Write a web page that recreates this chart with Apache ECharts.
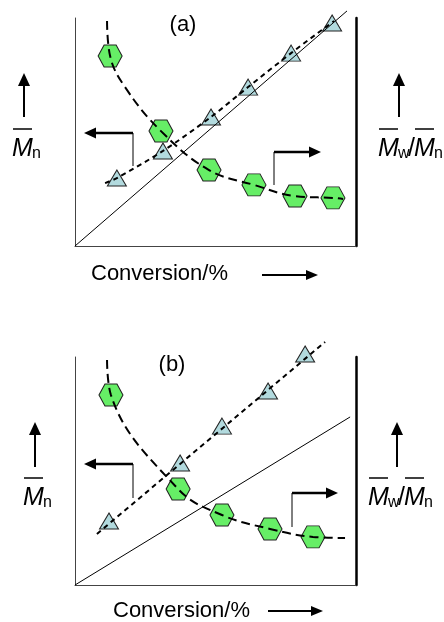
<!DOCTYPE html>
<html><head><meta charset="utf-8">
<script src="https://cdn.jsdelivr.net/npm/echarts@6/dist/echarts.min.js"></script>
<style>html,body{margin:0;padding:0;background:#fff}#c{width:444px;height:622px}</style>
</head><body><div id="c"></div>
<script>
// ---------- Panel (a) ----------
const convA_Mn   = [14.9, 31.3, 48.4, 61.6, 76.9, 91.5];
const MnA        = [29.8, 41.7, 56.6, 69.7, 84.6, 97.8];
const convA_PDI  = [12.5, 30.6, 47.7, 63.7, 78.3, 91.8];
const PDIA       = [83.3, 50.4, 33.3, 26.8, 21.9, 21.1];
const fitA_Mn_x  = [10.7, 14.9, 31.3, 48.4, 61.6, 76.9, 92.2];
const fitA_Mn_y  = [27.6, 29.8, 41.7, 56.6, 69.7, 84.6, 98.7];
const fitA_PDI_x = [11.4, 12.5, 17.8, 30.6, 47.7, 63.7, 78.3, 91.8, 95.4];
const fitA_PDI_y = [98.7, 83.3, 69.7, 50.4, 33.3, 26.8, 21.9, 21.1, 20.6];
const theoA_x    = [0, 96.8];
const theoA_y    = [0, 103.1];
// ---------- Panel (b) ----------
const convB_Mn   = [12.1, 37.4, 52.3, 68.7, 81.9];
const MnB        = [28.1, 53.5, 69.7, 85.1, 101.3];
const convB_PDI  = [12.8, 36.7, 52.3, 69.4, 84.7];
const PDIB       = [83.3, 42.1, 30.7, 24.6, 21.1];
const fitB_Mn_x  = [7.8, 89.0];
const fitB_Mn_y  = [22.4, 106.6];
const fitB_PDI_x = [11.4, 12.8, 36.7, 52.3, 69.4, 84.7, 96.1];
const fitB_PDI_y = [98.7, 83.3, 42.1, 30.7, 24.6, 21.1, 20.6];
const theoB_x    = [0, 97.9];
const theoB_y    = [0, 73.7];

const zip = (a, b) => a.map((v, i) => [v, b[i]]);
const FONT = '"Liberation Sans", Arial, sans-serif';
const HEX = 'path://M0,10 L5,0 L15,0 L20,10 L15,20 L5,20 Z';

function axesFor(g) {
  return {
    x: { gridIndex: g, type: 'value', min: 0, max: 100, axisTick: {show: false}, axisLabel: {show: false}, splitLine: {show: false},
         axisLine: {show: true, onZero: false, lineStyle: {color: '#444', width: 1}} },
    yl: { gridIndex: g, type: 'value', min: 0, max: 100, position: 'left', axisTick: {show: false}, axisLabel: {show: false}, splitLine: {show: false},
         axisLine: {show: true, onZero: false, lineStyle: {color: '#444', width: 1}} },
    yr: { gridIndex: g, type: 'value', min: 0, max: 100, position: 'right', axisTick: {show: false}, axisLabel: {show: false}, splitLine: {show: false},
         axisLine: {show: true, onZero: false, lineStyle: {color: '#000', width: 2.5}} }
  };
}
const A = axesFor(0), B = axesFor(1);

function panelSeries(xi, yl, yr, tri, hex, fitMn, fitPDI, theo, smoothMn) {
  return [
    { type: 'scatter', xAxisIndex: xi, yAxisIndex: yl, data: tri, symbol: 'triangle', symbolSize: [19, 16], clip: false, z: 2,
      itemStyle: {color: '#b2dade', borderColor: '#222', borderWidth: 1, opacity: 1} },
    { type: 'scatter', xAxisIndex: xi, yAxisIndex: yr, data: hex, symbol: HEX, symbolSize: [24, 22], clip: false, z: 2,
      itemStyle: {color: '#66ee66', borderColor: '#222', borderWidth: 1, opacity: 1} },
    { type: 'line', xAxisIndex: xi, yAxisIndex: yl, data: theo, symbol: 'none', clip: false, z: 3,
      lineStyle: {color: '#000', width: 1} },
    { type: 'line', xAxisIndex: xi, yAxisIndex: yl, data: fitMn, symbol: 'none', smooth: smoothMn, clip: false, z: 4,
      lineStyle: {color: '#000', width: 2, type: [5, 4]} },
    { type: 'line', xAxisIndex: xi, yAxisIndex: yr, data: fitPDI, symbol: 'none', smooth: 0.4, clip: false, z: 4,
      lineStyle: {color: '#000', width: 2, type: [9, 5]} }
  ];
}

// ---------- annotation helpers ----------
function arrowHead(tx, ty, dir, len, half) {
  let pts;
  if (dir === 'left') pts = [[tx, ty], [tx + len, ty - half], [tx + len, ty + half]];
  else if (dir === 'right') pts = [[tx, ty], [tx - len, ty - half], [tx - len, ty + half]];
  else pts = [[tx, ty], [tx - half, ty + len], [tx + half, ty + len]];
  return {type: 'polygon', shape: {points: pts}, style: {fill: '#000'}, z: 10};
}
function line(pts, w) {
  return {type: 'polyline', shape: {points: pts}, style: {stroke: '#000', lineWidth: w, fill: null}, z: 10};
}
function txt(x, y, s, size, italic, align) {
  return {type: 'text', x: x, y: y, z: 10,
    style: {text: s, fontSize: size, fontFamily: FONT, fontStyle: italic ? 'italic' : 'normal', fill: '#000',
            textAlign: align || 'left', textVerticalAlign: 'middle'}};
}
function upArrow(x, top, bottom) {
  return [line([[x, bottom], [x, top + 10]], 2), arrowHead(x, top, 'up', 13, 6)];
}
function mBar(x, y, sub) {
  return [
    txt(x, y, 'M', 25, true),
    line([[x + 1, y - 20], [x + 20, y - 20]], 1.5),
    txt(x + 20, y + 5, sub, 16, false)
  ];
}

const graphics = [].concat(
  txt(183, 25, '(a)', 22, false, 'center'),
  upArrow(24, 73, 117),
  mBar(12, 149, 'n'),
  upArrow(399, 73, 117),
  mBar(378, 149, 'w'),
  txt(408, 149, '/', 25, false),
  mBar(414, 149, 'n'),
  txt(91, 274, 'Conversion/%', 22, false),
  line([[262, 275], [307, 275]], 2), arrowHead(318, 275, 'right', 12, 5),
  line([[95, 133], [133, 133]], 2.5), arrowHead(84, 133, 'left', 12, 5.5),
  line([[133, 133], [133, 166]], 1),
  line([[274, 185], [274, 152]], 1),
  line([[274, 152], [310, 152]], 2.5), arrowHead(321, 152, 'right', 12, 5.5),

  txt(172, 365, '(b)', 22, false, 'center'),
  upArrow(35, 422, 467),
  mBar(23, 498, 'n'),
  upArrow(397, 422, 467),
  mBar(368, 498, 'w'),
  txt(398, 498, '/', 25, false),
  mBar(404, 498, 'n'),
  txt(113, 611, 'Conversion/%', 22, false),
  line([[268, 611], [312, 611]], 2), arrowHead(323, 611, 'right', 12, 5),
  line([[95, 464], [133, 464]], 2.5), arrowHead(84, 464, 'left', 12, 5.5),
  line([[133, 464], [133, 498]], 1),
  line([[292, 527], [292, 493]], 1),
  line([[292, 493], [327, 493]], 2.5), arrowHead(338, 493, 'right', 12, 5.5)
);

const chart = echarts.init(document.getElementById('c'), null, {renderer: 'canvas'});
chart.setOption({
  animation: false,
  backgroundColor: '#fff',
  grid: [
    {left: 75, top: 18, width: 281, height: 228},
    {left: 75, top: 357, width: 281, height: 228}
  ],
  xAxis: [A.x, B.x],
  yAxis: [A.yl, A.yr, B.yl, B.yr],
  series: [].concat(
    panelSeries(0, 0, 1, zip(convA_Mn, MnA), zip(convA_PDI, PDIA), zip(fitA_Mn_x, fitA_Mn_y), zip(fitA_PDI_x, fitA_PDI_y), zip(theoA_x, theoA_y), 0.3),
    panelSeries(1, 2, 3, zip(convB_Mn, MnB), zip(convB_PDI, PDIB), zip(fitB_Mn_x, fitB_Mn_y), zip(fitB_PDI_x, fitB_PDI_y), zip(theoB_x, theoB_y), false)
  ),
  graphic: graphics
});
</script></body></html>
